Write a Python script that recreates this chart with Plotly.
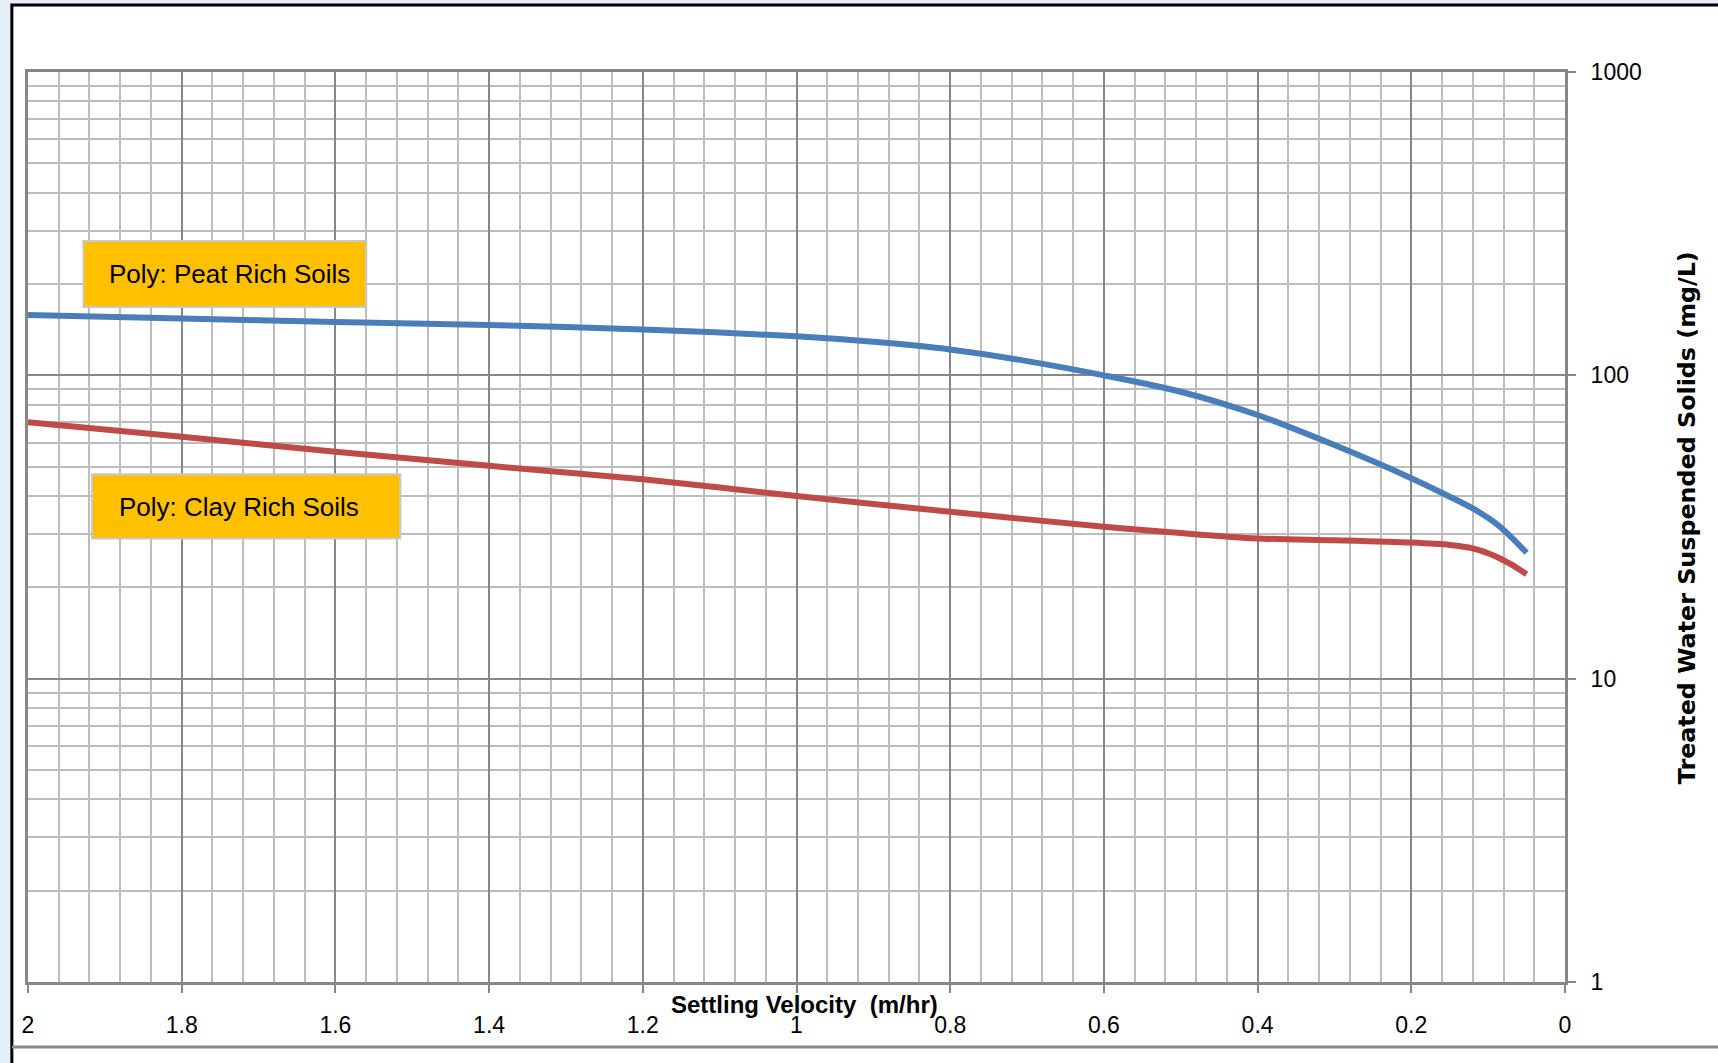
import plotly.graph_objects as go

# Settling velocity (m/hr) vs treated water suspended solids (mg/L)
peat_velocity = [2.0, 1.8, 1.6, 1.4, 1.2, 1.0, 0.9, 0.8, 0.7, 0.6, 0.5, 0.4, 0.3, 0.2, 0.15, 0.12, 0.09, 0.07, 0.05]
peat_solids = [158, 154, 150, 146.5, 141.7, 134.6, 129, 121.7, 111.4, 100, 88.3, 74, 58.9, 45.8, 39.8, 36.4, 32.5, 29.3, 26]

clay_velocity = [2.0, 1.8, 1.6, 1.4, 1.2, 1.0, 0.8, 0.6, 0.5, 0.4, 0.3, 0.2, 0.15, 0.12, 0.09, 0.07, 0.05]
clay_solids = [70, 62.7, 56, 50.3, 45.4, 40, 35.5, 31.7, 30.2, 29, 28.6, 28.1, 27.6, 26.9, 25.3, 23.8, 22.1]

x_tick_vals = [2, 1.8, 1.6, 1.4, 1.2, 1, 0.8, 0.6, 0.4, 0.2, 0]
x_tick_text = ["2", "1.8", "1.6", "1.4", "1.2", "1", "0.8", "0.6", "0.4", "0.2", "0"]
y_tick_vals = [1, 10, 100, 1000]
y_tick_text = ["1", "10", "100", "1000"]
y_minor_vals = [m * d for d in (1, 10, 100) for m in range(2, 10)]

peat_label = "Poly: Peat Rich Soils"
clay_label = "Poly: Clay Rich Soils"
x_title = "Settling Velocity&nbsp;&nbsp;(m/hr)"
y_title = "Treated Water Suspended Solids (mg/L)"

SANS = "Liberation Sans, Arial, sans-serif"
MAJOR_GRID = "#878787"
MINOR_GRID = "#bdbdbd"

fig = go.Figure()
fig.add_trace(go.Scatter(
    x=peat_velocity, y=peat_solids, mode="lines", name=peat_label,
    line=dict(color="#4a7ebb", width=6, shape="spline", smoothing=0.8),
))
fig.add_trace(go.Scatter(
    x=clay_velocity, y=clay_solids, mode="lines", name=clay_label,
    line=dict(color="#be4b48", width=6, shape="spline", smoothing=0.8),
))

fig.update_layout(
    width=1718, height=1063,
    margin=dict(l=28, r=153, t=72, b=81),
    paper_bgcolor="#e6eef7",
    plot_bgcolor="white",
    showlegend=False,
    font=dict(family=SANS, size=23, color="black"),
    xaxis=dict(
        range=[2, 0],
        tickmode="array", tickvals=x_tick_vals, ticktext=x_tick_text,
        ticks="outside", ticklen=8, tickwidth=2, tickcolor=MAJOR_GRID,
        ticklabelstandoff=12,
        showgrid=True, gridcolor=MAJOR_GRID, gridwidth=2,
        minor=dict(dtick=0.04, tick0=0, showgrid=True, gridcolor=MINOR_GRID, gridwidth=2, ticks=""),
        showline=True, linecolor=MAJOR_GRID, linewidth=3, mirror=True,
        zeroline=False,
        tickfont=dict(family=SANS, size=23, color="black"),
    ),
    yaxis=dict(
        type="log", range=[0, 3], side="right",
        tickmode="array", tickvals=y_tick_vals, ticktext=y_tick_text,
        ticks="outside", ticklen=8, tickwidth=2, tickcolor=MAJOR_GRID,
        ticklabelstandoff=10,
        showgrid=True, gridcolor=MAJOR_GRID, gridwidth=2,
        minor=dict(tickmode="array", tickvals=y_minor_vals, showgrid=True,
                   gridcolor=MINOR_GRID, gridwidth=2, ticks=""),
        showline=True, linecolor=MAJOR_GRID, linewidth=3, mirror=True,
        zeroline=False,
        tickfont=dict(family=SANS, size=23, color="black"),
    ),
)

# Chart-area frame and bottom rule
fig.add_shape(type="rect", xref="paper", yref="paper",
              x0=-0.0105, x1=1.12, y0=-0.12, y1=1.0737,
              fillcolor="white", line=dict(color="black", width=3), layer="below")
fig.add_shape(type="line", xref="paper", yref="paper",
              x0=-0.0105, x1=1.12, y0=-0.0715, y1=-0.0715,
              line=dict(color="#8a8a8a", width=3))

# Series label boxes
fig.add_shape(type="rect", xref="paper", yref="paper",
              x0=0.0360, x1=0.2201, y0=0.7417, y1=0.8142,
              fillcolor="#ffc000", line=dict(color="#c8c8c8", width=2))
fig.add_shape(type="rect", xref="paper", yref="paper",
              x0=0.0417, x1=0.2422, y0=0.4874, y1=0.5581,
              fillcolor="#ffc000", line=dict(color="#c8c8c8", width=2))

fig.add_annotation(text=peat_label, xref="paper", yref="paper", x=0.0516, y=0.7775,
                   xanchor="left", yanchor="middle", showarrow=False,
                   font=dict(family=SANS, size=26, color="black"))
fig.add_annotation(text=clay_label, xref="paper", yref="paper", x=0.0580, y=0.5225,
                   xanchor="left", yanchor="middle", showarrow=False,
                   font=dict(family=SANS, size=26, color="black"))

# Axis titles
fig.add_annotation(text="<b>" + x_title + "</b>", xref="paper", yref="paper",
                   x=0.505, y=-0.0245, xanchor="center", yanchor="middle", showarrow=False,
                   font=dict(family=SANS, size=24, color="black"))
fig.add_annotation(text="<b>" + y_title + "</b>", xref="paper", yref="paper",
                   x=1.0794, y=0.5097, xanchor="center", yanchor="middle", showarrow=False,
                   textangle=-90,
                   font=dict(family="DejaVu Sans, Verdana, sans-serif", size=23.8, color="black"))

fig.write_html("out.html")
